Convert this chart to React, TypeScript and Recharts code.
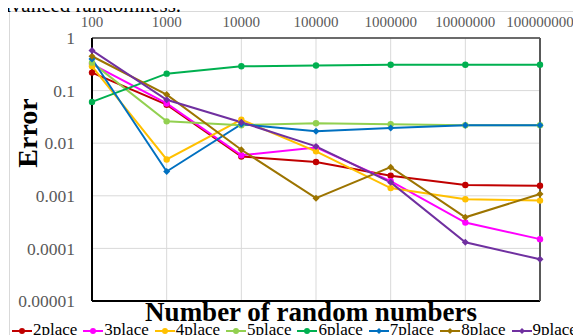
import { CartesianGrid, Line, LineChart, ReferenceLine, XAxis, YAxis } from "recharts";

const counts = ["100", "1000", "10000", "100000", "1000000", "10000000", "100000000"];
const place2 = [0.22, 0.054, 0.0056, 0.0044, 0.0024, 0.0016, 0.00155];
const place3 = [0.32, 0.057, 0.0059, 0.0083, 0.0019, 0.00031, 0.00015];
const place4 = [0.29, 0.0049, 0.028, 0.007, 0.0014, 0.00086, 0.00081];
const place5 = [0.34, 0.026, 0.022, 0.024, 0.023, 0.022, 0.022];
const place6 = [0.061, 0.21, 0.29, 0.3, 0.31, 0.31, 0.31];
const place7 = [0.4, 0.0029, 0.023, 0.0168, 0.0195, 0.022, 0.022];
const place8 = [0.45, 0.084, 0.0075, 0.0009, 0.0035, 0.00039, 0.00108];
const place9 = [0.58, 0.067, 0.025, 0.0087, 0.0018, 0.000131, 0.000062];
const yTicks = [0.00001, 0.0001, 0.001, 0.01, 0.1, 1];

const series = [
  { key: "2place", color: "#C00000", values: place2, diamond: false },
  { key: "3place", color: "#FF00FF", values: place3, diamond: false },
  { key: "4place", color: "#FFC000", values: place4, diamond: false },
  { key: "5place", color: "#92D050", values: place5, diamond: false },
  { key: "6place", color: "#00B050", values: place6, diamond: false },
  { key: "7place", color: "#0070C0", values: place7, diamond: true },
  { key: "8place", color: "#9C7400", values: place8, diamond: true },
  { key: "9place", color: "#7030A0", values: place9, diamond: true },
];

const data = counts.map((n, i) => {
  const row: Record<string, string | number> = { n };
  series.forEach((s) => {
    row[s.key] = s.values[i];
  });
  return row;
});

const serif = '"Liberation Serif", "Times New Roman", serif';

function marker(color: string, diamond: boolean) {
  return (props: any) => {
    const { cx, cy, index } = props;
    if (cx == null || cy == null) return <g key={index} />;
    if (diamond) {
      const r = 3.5;
      return (
        <path
          key={index}
          d={`M${cx},${cy - r}L${cx + r},${cy}L${cx},${cy + r}L${cx - r},${cy}Z`}
          fill={color}
        />
      );
    }
    return <circle key={index} cx={cx} cy={cy} r={3.2} fill={color} />;
  };
}

export default function App() {
  return (
    <div style={{ position: "relative", fontFamily: serif }}>
      <div
        style={{
          position: "relative",
          width: 573,
          height: 327,
          overflow: "hidden",
        }}
      >
        <div
          style={{
            position: "absolute",
            left: 1,
            top: 3,
            width: 700,
            height: 400,
            border: "1px solid #d9d9d9",
            background: "#fff",
          }}
        />
        <div style={{ position: "absolute", left: 0, top: 0 }}>
          <LineChart
            width={573}
            height={327}
            data={data}
            margin={{ top: 0, right: 41, bottom: 34, left: 0 }}
          >
            <CartesianGrid stroke="#d9d9d9" strokeWidth={1} />
            <XAxis
              dataKey="n"
              orientation="top"
              height={30}
              interval={0}
              axisLine={false}
              tickLine={false}
              tickSize={6}
              tickMargin={5}
              tick={{ fontSize: 15, fill: "#595959", fontFamily: "Liberation Serif" }}
            />
            <YAxis
              scale="log"
              domain={[0.00001, 1]}
              ticks={yTicks}
              allowDataOverflow
              width={84}
              tickLine={false}
              tickSize={6}
              tickMargin={11}
              axisLine={{ stroke: "#000", strokeWidth: 2 }}
              tickFormatter={(v: number) => String(v)}
              tick={{ fontSize: 17.5, fill: "#595959", fontFamily: "Liberation Serif" }}
            />
            <ReferenceLine y={1} stroke="#404040" strokeWidth={1.5} />
            <ReferenceLine y={0.00001} stroke="#000" strokeWidth={2} />
            <ReferenceLine x="100000000" stroke="#595959" strokeWidth={2} />
            {series.map((s) => (
              <Line
                key={s.key}
                dataKey={s.key}
                stroke={s.color}
                strokeWidth={2}
                dot={marker(s.color, s.diamond)}
                activeDot={false}
                isAnimationActive={false}
              />
            ))}
          </LineChart>
        </div>
        <div
          style={{
            position: "absolute",
            left: 19.7,
            top: 124.5,
            transform: "translate(-50%, -50%) rotate(-90deg)",
            fontSize: 28,
            lineHeight: "28px",
            fontWeight: "bold",
            whiteSpace: "nowrap",
          }}
        >
          Error
        </div>
        <div
          style={{
            position: "absolute",
            left: 303,
            top: 291,
            transform: "translateX(-50%)",
            fontSize: 27,
            lineHeight: "27px",
            fontWeight: "bold",
            whiteSpace: "nowrap",
          }}
        >
          Number of random numbers
        </div>
        <div
          style={{
            position: "absolute",
            left: 4,
            top: 312.6,
            display: "flex",
            gap: 6,
            fontSize: 17,
            lineHeight: "17px",
            whiteSpace: "nowrap",
          }}
        >
          {series.map((s) => (
            <div key={s.key} style={{ display: "flex", alignItems: "flex-start" }}>
              <svg width={20} height={17} style={{ marginRight: 1 }}>
                <line x1={0} y1={10} x2={20} y2={10} stroke={s.color} strokeWidth={2} />
                {s.diamond ? (
                  <path d="M10,7L13,10L10,13L7,10Z" fill={s.color} />
                ) : (
                  <circle cx={10} cy={10} r={3} fill={s.color} />
                )}
              </svg>
              <span>{s.key}</span>
            </div>
          ))}
        </div>
      </div>
      <div
        style={{
          position: "absolute",
          left: -17,
          top: -13,
          fontSize: 21,
          lineHeight: "21px",
          whiteSpace: "nowrap",
          zIndex: 2,
          color: "#000",
        }}
      >
        advanced randomness.
      </div>
    </div>
  );
}
